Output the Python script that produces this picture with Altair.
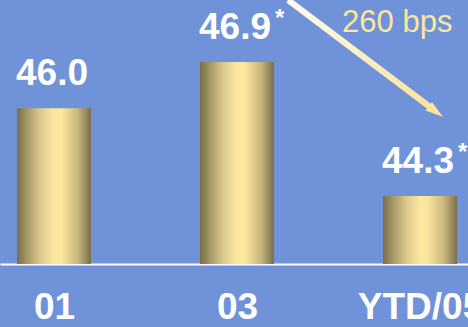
import json
import altair as alt
import pandas as pd

# ---- data ----
categories = ["01", "03", "YTD/05"]
values = [46.0, 46.9, 44.3]
value_labels = ["46.0", "46.9", "44.3"]
stars = ["", "*", "*"]

# annotation arrow (x in category-index units, y in value units)
arrow_x = [1.279, 2.06]
arrow_y = [48.10, 46.01]
arrow_tip_x = [2.126]
arrow_tip_y = [45.83]
note_text = ["260 bps"]
note_x = [1.574]
note_y = [47.48]

BG = "#6F92D8"
FONT = "Liberation Sans"

bars_df = pd.DataFrame({
    "pos": list(range(len(categories))),
    "cat": categories,
    "value": values,
    "label": value_labels,
    "star": stars,
})
arrow_line_df = pd.DataFrame({"x": [arrow_x[0]], "y": [arrow_y[0]],
                              "x2": [arrow_x[1]], "y2": [arrow_y[1]]})
tip_df = pd.DataFrame({"x": arrow_tip_x, "y": arrow_tip_y})
note_df = pd.DataFrame({"x": note_x, "y": note_y, "t": note_text})

xscale = alt.Scale(domain=[-0.295, 2.262], nice=False, zero=False, padding=0)
yscale = alt.Scale(domain=[42.98, 48.10], nice=False, zero=False)

label_expr = json.dumps(categories) + "[datum.value]"

x_axis = alt.Axis(
    values=list(range(len(categories))), labelExpr=label_expr, title=None,
    grid=False, ticks=False, domainColor="white", domainWidth=2,
    labelColor="white", labelFont=FONT, labelFontSize=37, labelFontWeight="bold",
    labelBaseline="alphabetic", labelPadding=54, labelOverlap=False,
    labelFlush=False,
)

gold = alt.Gradient(
    gradient="linear",
    stops=[
        alt.GradientStop(color="#7A6E48", offset=0),
        alt.GradientStop(color="#D8C78A", offset=0.3),
        alt.GradientStop(color="#FCE79F", offset=0.5),
        alt.GradientStop(color="#FCE79F", offset=0.6),
        alt.GradientStop(color="#C9B87E", offset=0.82),
        alt.GradientStop(color="#7A6E48", offset=1),
    ],
    x1=0, x2=1, y1=0, y2=0,
)

bars = alt.Chart(bars_df).mark_bar(width=74, color=gold, clip=True).encode(
    x=alt.X("pos:Q", scale=xscale, axis=x_axis),
    y=alt.Y("value:Q", scale=yscale, axis=None),
)

labels = alt.Chart(bars_df).mark_text(
    font=FONT, fontSize=37, fontWeight="bold", color="white",
    baseline="alphabetic", align="center", dy=-23, dx=-2,
).encode(x=alt.X("pos:Q", scale=xscale), y=alt.Y("value:Q", scale=yscale), text="label:N")

star_marks = alt.Chart(bars_df).mark_text(
    font=FONT, fontSize=24, fontWeight="bold", color="white",
    baseline="alphabetic", align="left", dx=38, dy=-36,
).encode(x=alt.X("pos:Q", scale=xscale), y=alt.Y("value:Q", scale=yscale), text="star:N")

arrow_grad = alt.Gradient(
    gradient="linear",
    stops=[alt.GradientStop(color="#FFFBEF", offset=0),
           alt.GradientStop(color="#FDE39B", offset=1)],
    x1=0, x2=1, y1=0, y2=1,
)
arrow = alt.Chart(arrow_line_df).mark_rule(
    stroke=arrow_grad, strokeWidth=6, strokeCap="butt",
).encode(
    x=alt.X("x:Q", scale=xscale), y=alt.Y("y:Q", scale=yscale),
    x2="x2:Q", y2="y2:Q",
)
tip = alt.Chart(tip_df).mark_point(
    shape="M0,0L0.3,1L-0.3,1Z", size=1300, filled=True, opacity=1,
    color="#FDE39B", angle=127, strokeWidth=0,
).encode(x=alt.X("x:Q", scale=xscale), y=alt.Y("y:Q", scale=yscale))

note = alt.Chart(note_df).mark_text(
    font=FONT, fontSize=31, color="#FCE79F", align="left", baseline="alphabetic",
).encode(x=alt.X("x:Q", scale=xscale), y=alt.Y("y:Q", scale=yscale), text="t:N")

chart = alt.layer(bars, labels, star_marks, arrow, tip, note).properties(
    width=468, height=264, background=BG,
    autosize=alt.AutoSizeParams(type="none"),
    padding={"left": 0, "top": 0, "right": 0, "bottom": 63},
).configure_view(stroke=None)

chart.save("out.html", embed_options={"renderer": "svg", "actions": False})
